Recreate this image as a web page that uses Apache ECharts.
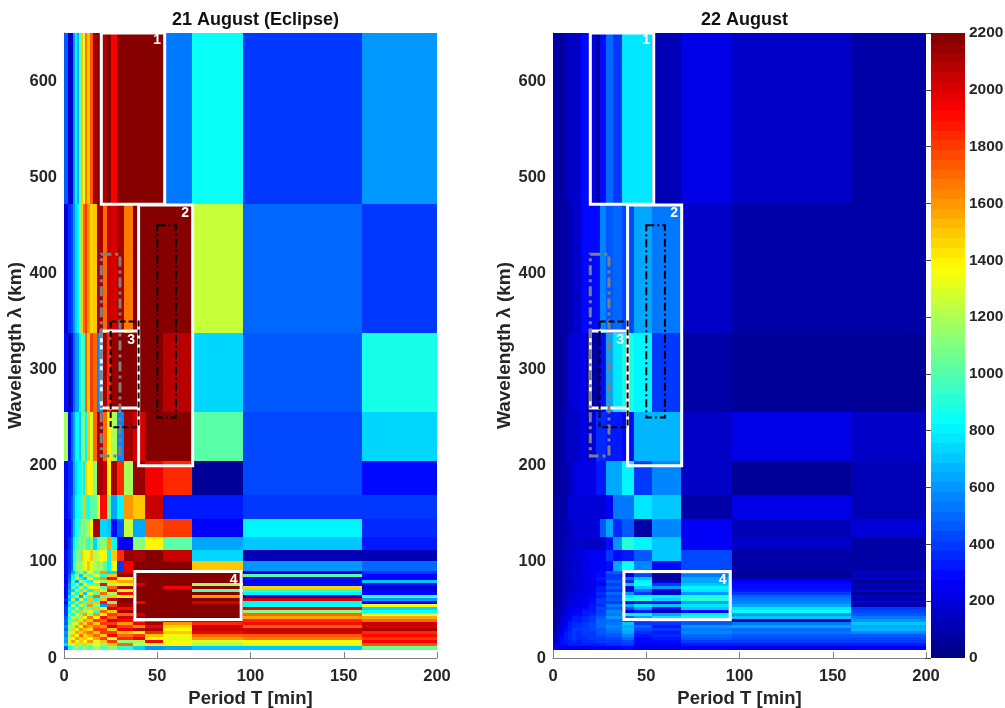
<!DOCTYPE html>
<html><head><meta charset="utf-8">
<script src="https://cdn.jsdelivr.net/npm/echarts@6/dist/echarts.min.js"></script>
<style>html,body{margin:0;background:#fff}#c{width:1005px;height:708px}</style></head>
<body><div id="c"></div>
<script>
const panelTitles=['21 August (Eclipse)','22 August'];
const periodTicks=[0,50,100,150,200];
const scaleMax=2200;
const periodEdgesUpper=[0,2,3.5,5,6,7,8,9,10,11,12.3,13.7,15.5,17.8,19.2,20.9,22.9,25.3,28.2,32,36.9,43.6,53.3,68.6,96,160,200];
const wavelengthEdgesUpper=[650,472,338,256,205,169.5,144.5,126,112,101,90.5];
const periodEdgesLower=[0,2,4,6,8,10,12.3,15.5,19.2,22.9,28.2,36.9,43.6,53.3,68.6,96,160,200];
const wavelengthEdgesLower=[90.5,87.4,84.2,81.1,78,74.9,71.8,68.6,65.5,62.4,59.3,56.2,53,49.9,46.8,43.7,40.6,37.4,34.3,31.2,28.1,25,21.8,18.7,15.6,12.5,8.3];
const eclipseUpper=[
[450,170,190,600,800,650,1000,1500,1300,1650,1500,1750,2100,2200,2150,2100,2200,1925,2200,2200,2200,2200,540,825,390,600],
[190,350,420,600,750,800,1100,1500,1700,1800,1600,1450,1500,2100,2100,1700,2050,2000,2100,1650,2200,2200,2200,1250,500,400],
[300,130,280,500,600,650,800,1000,900,1700,1500,1800,1700,550,550,2100,1850,2150,2200,2200,2200,2200,2090,730,450,880],
[1200,300,500,620,800,850,700,1000,1100,800,1500,1300,1700,2100,2100,1700,1400,1200,550,2100,2000,2200,2200,1000,430,750],
[300,350,380,650,750,800,850,1000,800,1500,1400,1400,1100,2100,2100,2050,1400,2100,1850,1200,2150,1950,1850,50,430,280],
[300,350,450,650,800,850,900,950,1500,900,850,1000,1050,1300,1900,1900,1050,650,800,1600,1500,2050,340,340,380,380],
[250,300,450,700,850,900,1000,1100,1050,1150,1150,1400,2100,2100,750,750,700,280,450,1250,620,1750,1800,270,800,350],
[200,350,500,800,950,1000,1100,1000,1200,1000,900,1100,750,1000,1100,1100,1550,850,250,250,1100,1400,1000,620,720,320],
[300,400,500,900,1000,1100,1000,1500,1400,1300,1400,1500,1200,1300,1350,1400,800,1500,1850,2150,2100,2200,2050,750,130,130],
[300,400,500,900,1100,1200,1100,1200,1400,1300,1500,1300,1200,1100,1200,1000,800,1350,400,1950,2200,2200,2200,1500,600,500]];
const eclipseLower=[
[300,400,650,900,1200,800,1350,1000,1600,750,2050,2200,2200,2200,2200,180,400],
[250,450,800,1100,700,1300,1000,1300,900,1500,2150,2200,2200,2200,2200,1000,300],
[300,500,850,1300,850,700,1350,900,1600,1900,1300,2200,2200,2200,2200,300,250],
[250,500,950,650,1200,1000,800,1400,1100,1450,1550,2200,2200,2200,2200,250,700],
[300,600,850,1150,750,1350,1050,1000,1900,1200,1400,2000,2200,2200,1200,300,300],
[300,550,1000,800,1300,850,1400,1300,1000,1700,2100,2200,2200,1925,2200,1450,200],
[300,650,750,1200,950,1450,800,1500,1300,1900,1400,2200,2200,2200,1000,950,250],
[300,600,1100,850,1450,700,1300,1000,1700,1200,1950,2200,2200,2200,2200,800,300],
[300,750,850,1300,650,1200,950,1700,1000,1500,1400,2200,2200,2200,1600,150,950],
[350,650,1200,700,1400,850,1500,850,1500,2000,2200,2200,2200,2200,2200,2000,600],
[300,800,800,1450,850,1500,950,1500,1900,1000,2150,1950,2200,2200,2000,800,250],
[350,750,1250,850,1300,1000,1600,1100,600,1800,2100,2200,2200,2200,2200,850,1350],
[400,900,850,1350,800,1450,1000,1500,1300,2000,1900,2200,2200,2200,2200,1950,750],
[400,850,1200,950,1500,1100,1400,950,1700,1500,2100,2200,2200,2200,2200,1100,850],
[400,1000,850,1400,1000,1600,1200,1600,1400,1800,1700,2000,2200,2200,2200,1700,1350],
[450,900,1250,1100,1450,1300,1650,1400,1900,1700,2000,2100,2200,2200,2200,1550,1550],
[500,1050,1000,1500,1200,1600,1500,1800,1700,2000,1900,1600,1800,1950,2000,1850,1700],
[450,1000,1300,1250,1600,1450,1700,1500,1800,1800,1600,1950,2100,1600,1850,1900,2050],
[550,1200,1200,1550,1350,1700,1550,1700,1600,2000,1800,1600,1950,1450,2000,1700,2000],
[500,1100,1450,1250,1600,1500,1450,1800,1800,1500,1950,2050,2100,1400,2050,2050,2100],
[600,1250,1250,1550,1450,1600,1700,1500,1800,1800,1500,1400,1850,1500,1950,2000,1850],
[550,1200,1500,1350,1700,1450,1550,1700,1500,1950,1700,1800,1500,1400,1700,1750,1900],
[650,1250,1350,1600,1450,1500,1300,1550,1800,1300,1850,1950,1400,1300,1600,1650,1800],
[600,1350,1600,1300,1500,1350,1600,1300,1500,1800,1100,1200,1950,1350,1300,1350,1950],
[750,1200,1300,1450,1100,1500,1150,1400,1100,1500,1700,1250,1300,1400,1200,1300,1750],
[450,900,1000,1100,1000,1100,1000,1200,1000,1100,900,750,600,650,700,700,1050]];
const nextDayUpper=[
[70,70,50,70,100,110,160,160,170,160,170,210,280,290,290,230,70,280,500,400,780,780,130,240,170,70],
[60,60,70,70,60,90,110,130,120,200,170,180,280,280,280,300,280,580,480,500,420,620,520,170,100,70],
[50,50,60,80,90,100,170,180,190,200,200,230,250,80,80,100,100,280,620,780,870,820,400,80,60,40],
[50,60,70,80,90,150,150,160,170,170,170,220,240,160,200,200,350,350,330,320,300,680,680,170,230,150],
[60,60,70,80,90,100,130,170,190,190,240,240,240,240,240,240,320,320,650,620,820,380,560,140,60,130],
[70,70,70,80,90,100,200,200,200,200,200,190,180,180,180,180,180,180,260,520,540,770,720,70,230,130],
[80,80,90,100,110,130,130,150,170,180,190,200,200,200,200,200,220,450,640,360,480,100,550,260,110,200],
[70,80,90,100,130,150,120,160,130,170,150,190,170,170,170,170,170,170,300,600,920,800,700,270,140,70],
[70,80,100,110,130,120,160,140,180,150,190,200,220,240,270,270,270,270,390,300,340,450,700,420,100,100],
[70,80,100,110,120,150,130,180,150,190,170,200,230,230,250,250,250,250,300,650,830,550,300,420,80,70]];
const nextDayLower=[
[60,60,90,130,170,180,200,220,240,300,450,280,500,300,650,60,140],
[60,70,100,120,150,190,200,210,260,280,400,230,420,80,520,50,110],
[60,70,90,130,170,170,200,220,230,320,380,500,700,50,620,120,160],
[50,70,100,120,150,180,190,230,240,300,480,360,800,160,650,270,60],
[60,70,90,140,140,190,200,210,260,270,400,700,850,400,720,290,170],
[50,70,110,120,170,170,200,230,240,330,450,150,700,600,820,300,90],
[60,80,90,140,150,200,200,220,260,320,390,300,520,200,760,330,180],
[60,70,110,130,180,180,210,230,250,350,500,600,400,160,600,400,60],
[50,80,100,150,160,210,210,240,270,330,420,760,850,820,860,500,170],
[60,80,120,140,190,200,230,250,280,380,480,850,900,750,900,540,90],
[60,90,110,160,180,230,220,260,290,390,400,200,330,300,650,560,240],
[60,90,130,160,210,230,240,270,310,370,540,650,780,720,780,650,100],
[70,100,130,180,210,260,250,290,320,420,480,430,600,280,700,780,400],
[70,100,150,190,240,270,270,310,340,410,560,180,330,120,300,840,430],
[70,110,150,200,250,290,290,330,360,440,540,800,800,650,800,600,460],
[70,120,170,220,270,310,310,350,390,470,600,500,650,760,850,700,520],
[80,120,180,240,290,340,330,370,410,490,500,440,460,540,500,100,600],
[90,140,200,250,310,360,350,380,420,500,520,700,400,380,480,520,700],
[100,150,220,270,330,370,360,400,440,490,580,650,500,340,600,620,620],
[110,170,230,290,340,390,380,400,420,480,540,680,420,380,520,500,680],
[120,180,250,310,350,400,370,390,410,450,510,620,360,340,560,540,560],
[130,190,260,320,370,390,370,380,400,430,470,560,320,360,500,460,480],
[150,210,280,330,360,380,360,370,380,410,440,500,300,320,450,430,430],
[160,220,290,320,340,360,340,350,360,380,400,440,280,290,400,380,380],
[180,240,280,300,320,330,310,320,330,340,360,380,260,270,340,340,330],
[300,220,220,230,240,250,240,240,250,260,270,280,230,240,260,240,260]];
const whiteBoxes=[[20,54,472,650],[40,69,200,471],[20,40,260,340],[38,95,40,90]];
const blackDashedBox=[[25,40,240,350]];
const blackDashDotBox=[[50,60,250,450]];
const grayDashDotBox=[[20,30,210,420]];
const boxLabels=[[50,643,'1'],[65,463,'2'],[36,331,'3'],[91,81,'4']];

const levels=64;
function clamp(v){return Math.max(0,Math.min(1,v))}
function jet(i){const t=(i+0.5)/levels;
 const r=clamp(Math.min(4*t-1.5,-4*t+4.5)),g=clamp(Math.min(4*t-0.5,-4*t+3.5)),b=clamp(Math.min(4*t+0.5,-4*t+2.5));
 return 'rgb('+Math.round(r*255)+','+Math.round(g*255)+','+Math.round(b*255)+')'}
function colorOf(v){return jet(Math.min(levels-1,Math.floor(v/scaleMax*levels)))}
function cells(xs,ys,rows){const out=[];rows.forEach((row,j)=>row.forEach((v,i)=>out.push([xs[i],xs[i+1],ys[j+1],ys[j],v])));return out}
function rectItem(params,api){
 const a=api.coord([api.value(0),api.value(3)]),b=api.coord([api.value(1),api.value(2)]);
 const x=Math.round(a[0]),y=Math.round(a[1]);
 return {type:'rect',shape:{x:x,y:y,width:Math.round(b[0])-x,height:Math.round(b[1])-y},style:{fill:colorOf(api.value(4))}}}
function boxSeries(idx,data,stroke,width,dash){return {type:'custom',xAxisIndex:idx,yAxisIndex:idx,clip:false,silent:true,z:5,data:data,
 renderItem(p,api){const a=api.coord([api.value(0),api.value(3)]),b=api.coord([api.value(1),api.value(2)]);
  return {type:'rect',shape:{x:a[0],y:a[1],width:b[0]-a[0],height:b[1]-a[1]},style:{fill:'none',stroke:stroke,lineWidth:width,lineDash:dash||null}}}}}
function labelSeries(idx){return {type:'custom',xAxisIndex:idx,yAxisIndex:idx,silent:true,z:6,data:boxLabels,
 renderItem(p,api){const a=api.coord([api.value(0),api.value(1)]);
  return {type:'text',style:{text:boxLabels[p.dataIndex][2],x:a[0],y:a[1],fill:'#fff',font:'bold 14px "Liberation Sans"',textAlign:'center',textVerticalAlign:'middle'}}}}}
const font={fontFamily:'"Liberation Sans",Arial,sans-serif',fontWeight:'bold',color:'#262626'};
const lineGray={show:true,lineStyle:{color:'#808080',width:1}};
const panels=[{left:64,upper:eclipseUpper,lower:eclipseLower},{left:553,upper:nextDayUpper,lower:nextDayLower}];
const grid=[],xAxis=[],yAxis=[],series=[],title=[];
panels.forEach((p,i)=>{
 grid.push({left:p.left,width:373,top:33,height:625,outerBoundsMode:'none'});
 title.push({text:panelTitles[i],left:p.left+186.5,top:6,textAlign:'center',textStyle:{...font,fontSize:18,color:'#111'}});
 xAxis.push({type:'value',gridIndex:i,min:0,max:periodTicks[periodTicks.length-1],interval:50,name:'Period T [min]',nameLocation:'middle',nameGap:30,
  nameTextStyle:{...font,fontSize:18.5},axisLabel:{...font,fontSize:16.5,margin:10},axisLine:lineGray,axisTick:{inside:true,length:6,lineStyle:{color:'#808080'}},splitLine:{show:false}});
 yAxis.push({type:'value',gridIndex:i,min:0,max:650,interval:100,name:'Wavelength \u03bb (km)',nameLocation:'middle',nameGap:37,nameRotate:90,
  nameTextStyle:{...font,fontSize:19},axisLabel:{...font,fontSize:16.5,margin:7,showMaxLabel:false},axisLine:lineGray,axisTick:{inside:true,length:6,lineStyle:{color:'#808080'}},splitLine:{show:false}});
 series.push({type:'custom',xAxisIndex:i,yAxisIndex:i,silent:true,progressive:0,z:2,renderItem:rectItem,
  data:cells(periodEdgesUpper,wavelengthEdgesUpper,p.upper).concat(cells(periodEdgesLower,wavelengthEdgesLower,p.lower))});
 series.push(boxSeries(i,whiteBoxes,'#fff',3));
 series.push(boxSeries(i,grayDashDotBox,'#808080',3,[10,4,3,4]));
 series.push(boxSeries(i,blackDashedBox,'#000',2,[6,3]));
 series.push(boxSeries(i,blackDashDotBox,'#000',2,[8,3,2,3]));
 series.push(labelSeries(i));
});
grid.push({left:931,width:34,top:33,height:625,outerBoundsMode:'none'});
xAxis.push({type:'value',gridIndex:2,min:0,max:1,show:false});
yAxis.push({type:'value',gridIndex:2,position:'right',min:0,max:scaleMax,interval:200,z:10,
 axisLabel:{...font,fontSize:15.5,margin:4,formatter:v=>String(v)},axisLine:{show:false},axisTick:{inside:true,length:6,lineStyle:{color:'#404040'}},splitLine:{show:false}});
series.push({type:'custom',xAxisIndex:2,yAxisIndex:2,silent:true,progressive:0,z:2,
 data:Array.from({length:levels},(_,i)=>[i*scaleMax/levels,(i+1)*scaleMax/levels,i]),
 renderItem(p,api){const a=api.coord([0,api.value(1)]),b=api.coord([1,api.value(0)]);
  const y=Math.round(a[1]);return {type:'rect',shape:{x:a[0],y:y,width:b[0]-a[0],height:Math.round(b[1])-y},style:{fill:jet(api.value(2))}}}});
const chart=echarts.init(document.getElementById('c'),null,{renderer:'canvas'});
chart.setOption({animation:false,backgroundColor:'#fff',title,grid,xAxis,yAxis,series});
</script></body></html>
